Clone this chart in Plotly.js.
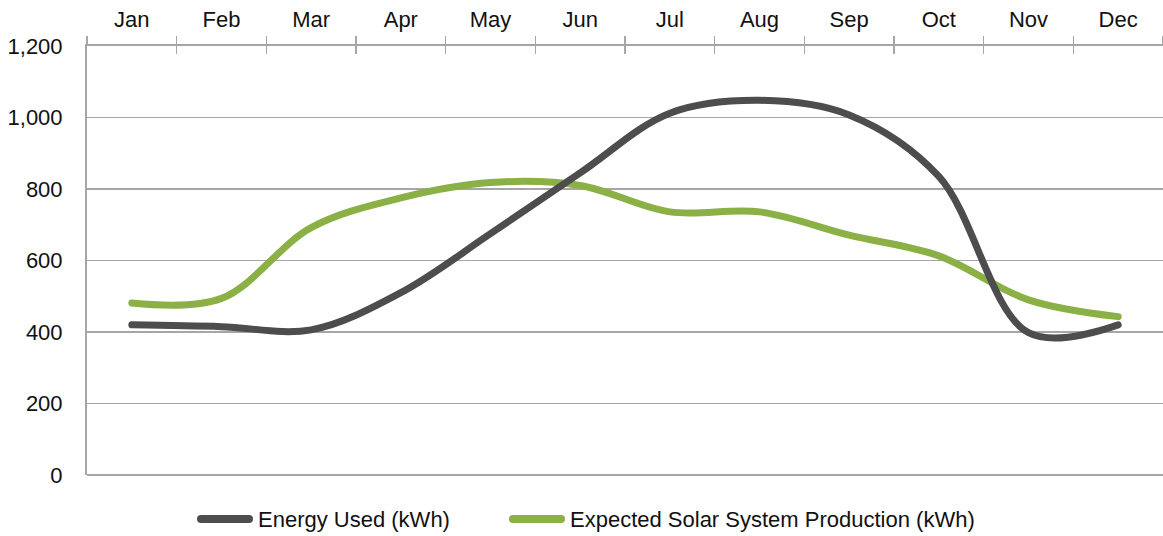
<!DOCTYPE html>
<html>
<head>
<meta charset="utf-8">
<script src="https://cdn.plot.ly/plotly-3.0.1.min.js"></script>
<style>html,body{margin:0;padding:0;background:#fff;}#chart{width:1163px;height:536px;}</style>
</head>
<body>
<div id="chart"></div>
<script>
const months = ["Jan","Feb","Mar","Apr","May","Jun","Jul","Aug","Sep","Oct","Nov","Dec"];
const energyUsed = [420, 415, 406, 510, 675, 845, 1012, 1048, 1007, 835, 398, 420];
const solarProduction = [481, 494, 692, 775, 818, 810, 736, 736, 671, 613, 490, 443];
const seriesNames = ["Energy Used (kWh)", "Expected Solar System Production (kWh)"];
const seriesColors = ["#4d4d4d", "#8bb045"];

const traces = [
  {x: months, y: energyUsed, name: seriesNames[0], type: "scatter", mode: "lines", xaxis: "x2",
   line: {color: seriesColors[0], width: 7, shape: "spline", smoothing: 1}},
  {x: months, y: solarProduction, name: seriesNames[1], type: "scatter", mode: "lines",
   line: {color: seriesColors[1], width: 7, shape: "spline", smoothing: 1}}
];

// manual legend (paper coords)
const px = v => (v - 87) / 1076;
const py = v => (475 - v) / 429;
const legY = py(519);
const shapes = [
  {type: "line", xref: "paper", yref: "paper", x0: px(201), x1: px(249), y0: legY, y1: legY,
   line: {color: seriesColors[0], width: 8}},
  {type: "line", xref: "paper", yref: "paper", x0: px(513), x1: px(561), y0: legY, y1: legY,
   line: {color: seriesColors[1], width: 8}}
];
const annotations = [
  {xref: "paper", yref: "paper", x: px(256), y: legY, xanchor: "left", yanchor: "middle",
   text: seriesNames[0], showarrow: false, font: {size: 22, color: "#111"}},
  {xref: "paper", yref: "paper", x: px(568), y: legY, xanchor: "left", yanchor: "middle",
   text: seriesNames[1], showarrow: false, font: {size: 22, color: "#111"}}
];

const axisBase = {type: "category", side: "top", range: [-0.5, 11.5], categoryorder: "array", categoryarray: months,
  tickson: "boundaries", ticklen: 8, tickcolor: "#a6a6a6", tickwidth: 1.5,
  showgrid: false, zeroline: false, fixedrange: true};

const layout = {
  width: 1163, height: 536,
  margin: {l: 87, r: 0, t: 46, b: 61},
  paper_bgcolor: "#fff", plot_bgcolor: "#fff",
  font: {family: "Liberation Sans, Arial, sans-serif", size: 22, color: "#111"},
  showlegend: false,
  shapes: shapes,
  annotations: annotations,
  xaxis: Object.assign({}, axisBase, {showline: true, linecolor: "#a6a6a6", linewidth: 2,
          ticks: "outside", ticklabelstandoff: 8}),
  xaxis2: Object.assign({}, axisBase, {overlaying: "x", showline: false, ticks: "inside", showticklabels: false}),
  yaxis: {range: [0, 1200], dtick: 200, tickformat: ",", showline: true, linecolor: "#a6a6a6", linewidth: 2,
          showgrid: true, gridcolor: "#a6a6a6", gridwidth: 1.5, zeroline: true, zerolinecolor: "#a6a6a6", zerolinewidth: 1.5,
          ticks: "", ticklabelstandoff: 18, fixedrange: true}
};

Plotly.newPlot("chart", traces, layout, {displayModeBar: false, staticPlot: true}).then(gd => {
  gd.querySelectorAll("path.js-line").forEach(p => { p.style.strokeLinecap = "round"; p.style.strokeLinejoin = "round"; });
  gd.querySelectorAll(".shapelayer path").forEach(p => { p.style.strokeLinecap = "round"; });
});
</script>
</body>
</html>
